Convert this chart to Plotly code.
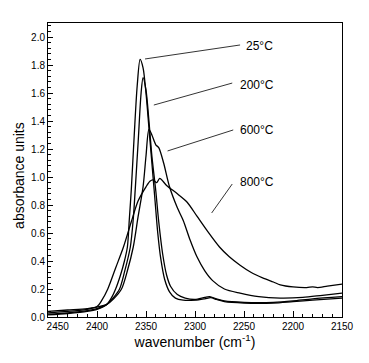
import plotly.graph_objects as go

# ---- data ----
wn_25 = [2450, 2430, 2410, 2400, 2390, 2385, 2381, 2376, 2372, 2369, 2367, 2365, 2362, 2359, 2356,
         2353, 2350, 2347, 2344, 2341, 2338, 2335, 2331, 2326, 2320, 2312, 2300, 2290, 2284, 2278,
         2270, 2250, 2220, 2200, 2180, 2150]
ab_25 = [0.015, 0.025, 0.04, 0.055, 0.09, 0.14, 0.2, 0.3, 0.4, 0.5, 0.7, 0.91, 1.3, 1.65, 1.84,
         1.78, 1.6, 1.35, 1.1, 0.85, 0.6, 0.42, 0.27, 0.18, 0.135, 0.12, 0.12, 0.13, 0.138, 0.125,
         0.11, 0.1, 0.1, 0.11, 0.12, 0.135]

wn_200 = [2450, 2430, 2410, 2400, 2390, 2383, 2377, 2372, 2366, 2363, 2361, 2358, 2355, 2353,
          2350, 2347, 2344, 2340, 2337, 2333, 2329, 2325, 2318, 2310, 2300, 2290, 2285, 2278,
          2270, 2250, 2220, 2200, 2180, 2150]
ab_200 = [0.02, 0.03, 0.045, 0.06, 0.09, 0.14, 0.2, 0.32, 0.5, 0.7, 0.91, 1.25, 1.6, 1.71,
          1.62, 1.4, 1.15, 0.9, 0.68, 0.45, 0.3, 0.22, 0.16, 0.135, 0.125, 0.14, 0.145, 0.13,
          0.115, 0.105, 0.105, 0.115, 0.13, 0.145]

wn_600 = [2450, 2430, 2410, 2400, 2390, 2383, 2375, 2369, 2363, 2358, 2353, 2350, 2347, 2344,
          2340, 2337, 2332, 2326, 2318, 2312, 2305, 2298, 2290, 2282, 2270, 2254, 2235, 2213,
          2190, 2170, 2150]
ab_600 = [0.03, 0.04, 0.055, 0.07, 0.09, 0.13, 0.2, 0.33, 0.5, 0.72, 0.93, 1.15, 1.34, 1.3,
          1.23, 1.21, 1.1, 0.93, 0.78, 0.69, 0.55, 0.43, 0.33, 0.26, 0.2, 0.17, 0.145, 0.135,
          0.14, 0.155, 0.17]

wn_800 = [2450, 2430, 2410, 2400, 2395, 2389, 2381, 2373, 2365, 2358, 2350, 2346, 2343, 2339,
          2336, 2329, 2318, 2308, 2298, 2288, 2275, 2265, 2254, 2243, 2231, 2220, 2213, 2200,
          2186, 2180, 2175, 2165, 2150]
ab_800 = [0.04, 0.05, 0.06, 0.075, 0.12, 0.2, 0.35, 0.5, 0.68, 0.83, 0.93, 0.97, 0.98, 0.96,
          0.99, 0.94, 0.88, 0.82, 0.72, 0.62, 0.5, 0.43, 0.37, 0.32, 0.28, 0.25, 0.23, 0.215,
          0.21, 0.215, 0.21, 0.22, 0.235]

labels = ["25°C", "200°C", "600°C", "800°C"]
label_x = [2250, 2256, 2256, 2256]
label_y = [1.936, 1.657, 1.336, 0.964]
leader_x0 = [2351, 2342, 2328, 2283]
leader_y0 = [1.843, 1.514, 1.186, 0.743]
leader_x1 = [2254, 2262, 2261, 2262]
leader_y1 = [1.943, 1.671, 1.336, 0.95]

x_ticks = [2450, 2400, 2350, 2300, 2250, 2200, 2150]
x_tick_text = ["\u00a0" * 7 + "2450", "2400", "2350", "2300", "2250", "2200", "2150"]
y_ticks = [0.0, 0.2, 0.4, 0.6, 0.8, 1.0, 1.2, 1.4, 1.6, 1.8, 2.0]

fig = go.Figure()
for wn, ab in [(wn_25, ab_25), (wn_200, ab_200), (wn_600, ab_600), (wn_800, ab_800)]:
    fig.add_trace(go.Scatter(x=wn, y=ab, mode="lines",
                             line=dict(color="black", width=1.3, shape="spline", smoothing=0.8),
                             showlegend=False, hoverinfo="skip"))

for i, t in enumerate(labels):
    fig.add_shape(type="line", x0=leader_x0[i], y0=leader_y0[i], x1=leader_x1[i], y1=leader_y1[i],
                  line=dict(color="black", width=0.8))
    fig.add_annotation(x=label_x[i], y=label_y[i], text=t, showarrow=False,
                       xanchor="left", yanchor="middle",
                       font=dict(family="Liberation Sans, Arial", size=12, color="black"))

# y-axis title placed as a rotated annotation
fig.add_annotation(xref="paper", yref="paper", x=-0.099, y=0.483, text="absorbance units",
                   textangle=-90, showarrow=False, xanchor="center", yanchor="middle",
                   font=dict(family="Liberation Sans, Arial", size=14, color="black"))

axis_font = dict(family="Liberation Sans, Arial", size=10, color="black")
fig.update_xaxes(range=[2450, 2150], tickvals=x_ticks, ticktext=x_tick_text,
                 ticks="inside", ticklen=6, tickcolor="black", tickwidth=1,
                 minor=dict(dtick=10, ticks="inside", ticklen=3, tickcolor="black"),
                 showline=True, linecolor="black", linewidth=1, mirror=True,
                 showgrid=False, zeroline=False, tickfont=axis_font, automargin=False,
                 title=dict(text="wavenumber (cm<sup>-1</sup>)",
                            font=dict(family="Liberation Sans, Arial", size=14, color="black"),
                            standoff=6))
fig.update_yaxes(range=[0, 2.1], tickvals=y_ticks, ticktext=[f"{v:.1f}" for v in y_ticks],
                 ticks="inside", ticklen=5, tickcolor="black", tickwidth=1,
                 minor=dict(dtick=0.04, ticks="inside", ticklen=2.5, tickcolor="black"),
                 showline=True, linecolor="black", linewidth=1, mirror=True,
                 showgrid=False, zeroline=False, tickfont=axis_font, automargin=False)
fig.update_layout(width=361, height=355, margin=dict(l=40, r=27, t=15, b=46),
                  paper_bgcolor="white", plot_bgcolor="white")
fig.write_html("out.html")
